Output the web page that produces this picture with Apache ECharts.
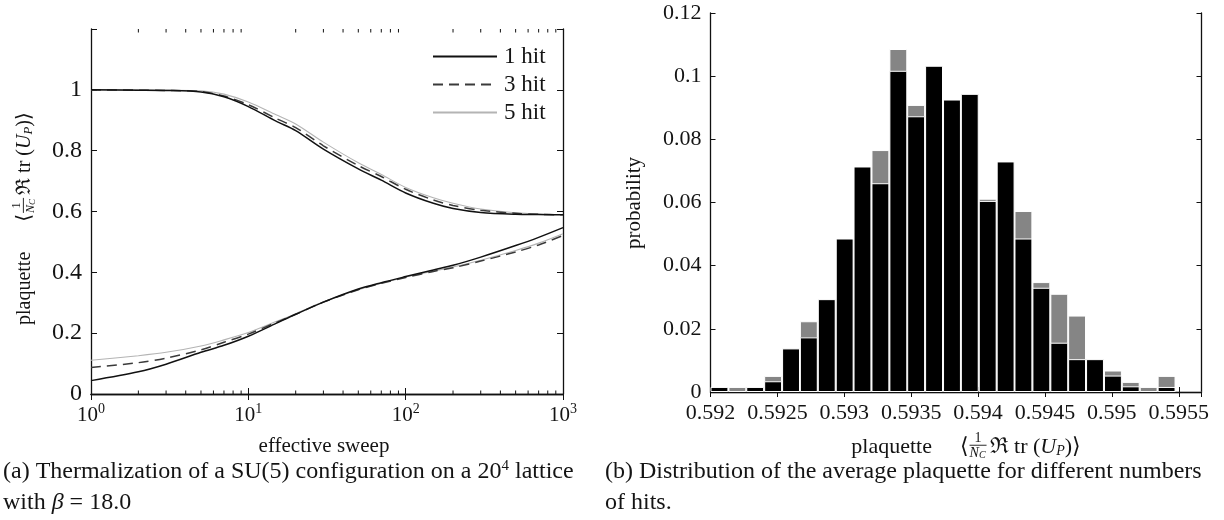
<!DOCTYPE html>
<html><head><meta charset="utf-8">
<script src="https://cdn.jsdelivr.net/npm/echarts@6/dist/echarts.min.js"></script>
<style>html,body{margin:0;padding:0;background:#fff}#c{width:1224px;height:520px}</style>
</head><body><div id="c"></div>
<script>
// ---------- data: (a) thermalization ----------
const sweeps = [1, 2, 3, 5, 7, 10, 15, 20, 30, 50, 70, 100, 150, 200, 300, 500, 700, 1000];
const hot1hit  = [1.000, 0.999, 0.998, 0.993, 0.977, 0.945, 0.897, 0.866, 0.805, 0.740, 0.703, 0.661, 0.627, 0.610, 0.597, 0.591, 0.590, 0.589];
const hot3hit  = [1.000, 0.999, 0.998, 0.994, 0.980, 0.951, 0.906, 0.876, 0.816, 0.751, 0.715, 0.673, 0.638, 0.620, 0.604, 0.594, 0.591, 0.589];
const hot5hit  = [1.000, 1.000, 0.999, 0.997, 0.986, 0.960, 0.918, 0.888, 0.828, 0.760, 0.722, 0.679, 0.645, 0.627, 0.608, 0.596, 0.592, 0.590];
const cold1hit = [0.044, 0.073, 0.098, 0.137, 0.160, 0.190, 0.232, 0.262, 0.302, 0.345, 0.366, 0.386, 0.408, 0.423, 0.450, 0.488, 0.515, 0.547];
const cold3hit = [0.087, 0.103, 0.118, 0.145, 0.170, 0.197, 0.235, 0.262, 0.302, 0.343, 0.364, 0.383, 0.403, 0.415, 0.437, 0.467, 0.490, 0.521];
const cold5hit = [0.111, 0.126, 0.137, 0.158, 0.178, 0.202, 0.238, 0.264, 0.303, 0.343, 0.364, 0.384, 0.404, 0.418, 0.440, 0.472, 0.496, 0.527];
const legendNames = ['1 hit', '3 hit', '5 hit'];

// ---------- data: (b) distribution ----------
const binCenters = [0.592067, 0.592201, 0.592334, 0.592468, 0.592602, 0.592735, 0.592869, 0.593003, 0.593136, 0.593270,
                    0.593404, 0.593537, 0.593671, 0.593805, 0.593938, 0.594072, 0.594206, 0.594339, 0.594473, 0.594607,
                    0.594740, 0.594874, 0.595008, 0.595141, 0.595275, 0.595409];
const probBlack = [0.0016, null, 0.0016, 0.0034, 0.0138, 0.0173, 0.0294, 0.0486, 0.0714, 0.0661,
                   0.1017, 0.0873, 0.1033, 0.0926, 0.0944, 0.0605, 0.0730, 0.0486, 0.0330, 0.0156,
                   0.0104, 0.0104, 0.0052, 0.0018, null, 0.0016];
const probGray  = [null, 0.0016, null, 0.0051, null, 0.0224, null, null, null, 0.0766,
                   0.1086, 0.0909, null, null, null, 0.0612, null, 0.0573, 0.0348, 0.0311,
                   0.0242, null, 0.0068, 0.0032, 0.0016, 0.0051];

const FF = "'Liberation Serif', 'DejaVu Serif', serif";
const TXT = '#141414';

const chart = echarts.init(document.getElementById('c'), null, {renderer: 'canvas'});

const styles = {
  '1 hit': {color: '#111', width: 1.5, type: 'solid'},
  '3 hit': {color: '#3a3a3a', width: 1.5, type: [10, 6]},
  '5 hit': {color: '#b4b4b4', width: 1.1, type: 'solid'}
};
function lineSeries(name, ys, z) {
  const st = styles[name];
  return {
    type: 'line', name, xAxisIndex: 0, yAxisIndex: 0,
    data: sweeps.map((s, i) => [s, ys[i]]),
    smooth: 0.3, symbol: 'none', showSymbol: false, z,
    lineStyle: {color: st.color, width: st.width, type: st.type},
    itemStyle: {color: st.color},
    emphasis: {disabled: true}
  };
}

const frameLine = {show: true, lineStyle: {color: '#111', width: 1.3}};
const inTick = (len) => ({show: true, inside: true, length: len, lineStyle: {color: '#111', width: 1}});

const option = {
  animation: false,
  backgroundColor: '#fff',
  textStyle: {fontFamily: FF, color: TXT},
  grid: [
    {left: 91, top: 29, width: 472, height: 365},
    {left: 710.5, top: 13, width: 491, height: 379}
  ],
  xAxis: [
    {type: 'log', logBase: 10, gridIndex: 0, min: 1, max: 1000, position: 'bottom',
     axisLine: frameLine, axisTick: inTick(6), splitLine: {show: false}, minorTick: {show: false},
     axisLabel: {margin: 8, color: TXT, fontFamily: FF, fontSize: 21,
       formatter: v => '{b|10}{s|' + Math.round(Math.log10(v)) + '}',
       rich: {b: {fontSize: 21, fontFamily: FF, color: TXT}, s: {fontSize: 14, fontFamily: FF, color: TXT, padding: [0, 0, 12, 0]}}}},
    {type: 'log', logBase: 10, gridIndex: 0, min: 1, max: 1000, position: 'top',
     axisLine: frameLine, axisTick: inTick(6), axisLabel: {show: false}, splitLine: {show: false}},
    {type: 'value', gridIndex: 1, min: 0.592, max: 0.59567, interval: 0.0005, position: 'bottom',
     axisLine: {show: true, lineStyle: {color: '#c4c4c4', width: 1.3}}, axisTick: inTick(5), splitLine: {show: false},
     axisLabel: {margin: 10, color: TXT, fontFamily: FF, fontSize: 22, showMaxLabel: false,
       formatter: v => String(+v.toFixed(4))}},
    {type: 'value', gridIndex: 1, min: 0.592, max: 0.59567, interval: 0.0005, position: 'top',
     axisLine: frameLine, axisTick: inTick(5), axisLabel: {show: false}, splitLine: {show: false}}
  ],
  yAxis: [
    {type: 'value', gridIndex: 0, min: 0, max: 1.2, interval: 0.2, position: 'left',
     axisLine: frameLine, axisTick: inTick(6), splitLine: {show: false},
     axisLabel: {margin: 9, color: TXT, fontFamily: FF, fontSize: 24,
       formatter: v => (v > 1.05 ? '' : String(+v.toFixed(1)))}},
    {type: 'value', gridIndex: 0, min: 0, max: 1.2, interval: 0.2, position: 'right',
     axisLine: frameLine, axisTick: inTick(6), axisLabel: {show: false}, splitLine: {show: false}},
    {type: 'value', gridIndex: 1, min: 0, max: 0.12, interval: 0.02, position: 'left',
     axisLine: frameLine, axisTick: inTick(5), splitLine: {show: false},
     axisLabel: {margin: 9, color: TXT, fontFamily: FF, fontSize: 22,
       formatter: v => String(+v.toFixed(2))}},
    {type: 'value', gridIndex: 1, min: 0, max: 0.12, interval: 0.02, position: 'right',
     axisLine: frameLine, axisTick: inTick(5), axisLabel: {show: false}, splitLine: {show: false}}
  ],
  legend: {
    data: legendNames, orient: 'vertical', left: 432, top: 45,
    itemWidth: 64, itemHeight: 12, itemGap: 5, padding: 0,
    selectedMode: false,
    itemStyle: {opacity: 0, borderWidth: 0},
    textStyle: {fontFamily: FF, fontSize: 23, color: TXT, padding: [0, 0, 0, 2]}
  },
  series: [
    lineSeries('5 hit', hot5hit, 3), lineSeries('5 hit', cold5hit, 3),
    lineSeries('3 hit', hot3hit, 4), lineSeries('3 hit', cold3hit, 4),
    lineSeries('1 hit', hot1hit, 5), lineSeries('1 hit', cold1hit, 5),
    {type: 'bar', name: 'other hits', xAxisIndex: 2, yAxisIndex: 2, barWidth: 17.9, barGap: '-100%',
     data: binCenters.map((c, i) => [c, probGray[i]]),
     itemStyle: {color: '#858585', borderColor: '#fff', borderWidth: 1}, emphasis: {disabled: true}, z: 2},
    {type: 'bar', name: 'one hit', xAxisIndex: 2, yAxisIndex: 2, barWidth: 17.9, barGap: '-100%',
     data: binCenters.map((c, i) => [c, probBlack[i]]),
     itemStyle: {color: '#000', borderColor: '#fff', borderWidth: 1}, emphasis: {disabled: true}, z: 3}
  ]
};
chart.setOption(option);

// ---------- graphics: titles, captions, math labels, log minor ticks ----------
const mctx = document.createElement('canvas').getContext('2d');
const fnt = (st, sz) => `${st} ${sz}px ${FF}`;
function tw(t, f) { mctx.font = f; return mctx.measureText(t).width; }
function txt(x, y, t, f) {
  return {type: 'text', x, y, style: {text: t, font: f, fill: TXT, align: 'left', verticalAlign: 'middle'}};
}
function mathLabel(fs, gap) {
  const kids = []; let x = 0;
  const add = (t, sz, st, dy) => { kids.push(txt(x, dy, t, fnt(st, sz))); x += tw(t, fnt(st, sz)); };
  add('plaquette', fs, 'normal', 0);
  x += gap;
  add('⟨', fs, 'normal', 0);
  x += 1;
  const fz = Math.round(fs * 0.62), cz = Math.round(fs * 0.45);
  const nW = tw('N', fnt('italic', fz)) + tw('C', fnt('italic', cz)) + 1;
  const fx = x;
  kids.push({type: 'text', x: fx + nW / 2, y: -fs * 0.4, style: {text: '1', font: fnt('normal', fz), fill: TXT, align: 'center', verticalAlign: 'middle'}});
  kids.push({type: 'line', shape: {x1: fx, y1: -fs * 0.08, x2: fx + nW, y2: -fs * 0.08}, style: {stroke: TXT, lineWidth: 0.9}});
  kids.push(txt(fx, fs * 0.28, 'N', fnt('italic', fz)));
  kids.push(txt(fx + tw('N', fnt('italic', fz)), fs * 0.38, 'C', fnt('italic', cz)));
  x = fx + nW + 3;
  add('ℜ', fs, 'normal', 0);
  add(' tr (', fs, 'normal', 0);
  add('U', fs, 'italic', 0);
  add('P', Math.round(fs * 0.65), 'italic', fs * 0.2);
  add(')⟩', fs, 'normal', 0);
  return {kids, width: x};
}

const g = [];
g.push({type: 'text', x: 324, y: 446, style: {text: 'effective sweep', font: fnt('normal', 21), fill: TXT, align: 'center', verticalAlign: 'middle'}});
const ml = mathLabel(20, 30);
g.push({type: 'group', x: 25, y: 325, rotation: Math.PI / 2, children: ml.kids});
g.push({type: 'text', x: 634, y: 203, rotation: Math.PI / 2, style: {text: 'probability', font: fnt('normal', 21), fill: TXT, align: 'center', verticalAlign: 'middle'}});
const mr = mathLabel(22, 28);
g.push({type: 'group', x: 966 - mr.width / 2, y: 447, children: mr.kids});
const capRich = {i: {fontStyle: 'italic', fontSize: 24, fontFamily: FF, fill: TXT}, s: {fontSize: 15, fontFamily: FF, fill: TXT, padding: [0, 0, 12, 0]}, n: {fontSize: 24, fontFamily: FF, fill: TXT}};
g.push({type: 'text', x: 3, y: 472, style: {text: '{n|(a) Thermalization of a SU(5) configuration on a 20}{s|4}{n| lattice}', rich: capRich, font: fnt('normal', 24), fill: TXT, align: 'left', verticalAlign: 'middle'}});
g.push({type: 'text', x: 3, y: 503, style: {text: '{n|with }{i|β}{n| = 18.0}', rich: capRich, font: fnt('normal', 24), fill: TXT, align: 'left', verticalAlign: 'middle'}});
g.push({type: 'text', x: 605, y: 472, style: {text: '(b) Distribution of the average plaquette for different numbers', font: fnt('normal', 24), fill: TXT, align: 'left', verticalAlign: 'middle'}});
g.push({type: 'text', x: 605, y: 503, style: {text: 'of hits.', font: fnt('normal', 24), fill: TXT, align: 'left', verticalAlign: 'middle'}});
for (let d = 0; d < 3; d++) {
  for (let k = 2; k <= 9; k++) {
    const px = chart.convertToPixel({xAxisIndex: 0}, k * Math.pow(10, d));
    g.push({type: 'line', shape: {x1: px, y1: 394, x2: px, y2: 390.5}, style: {stroke: '#111', lineWidth: 1}, z: 10});
    g.push({type: 'line', shape: {x1: px, y1: 29, x2: px, y2: 32.5}, style: {stroke: '#111', lineWidth: 1}, z: 10});
  }
}
chart.setOption({graphic: g});
</script></body></html>
